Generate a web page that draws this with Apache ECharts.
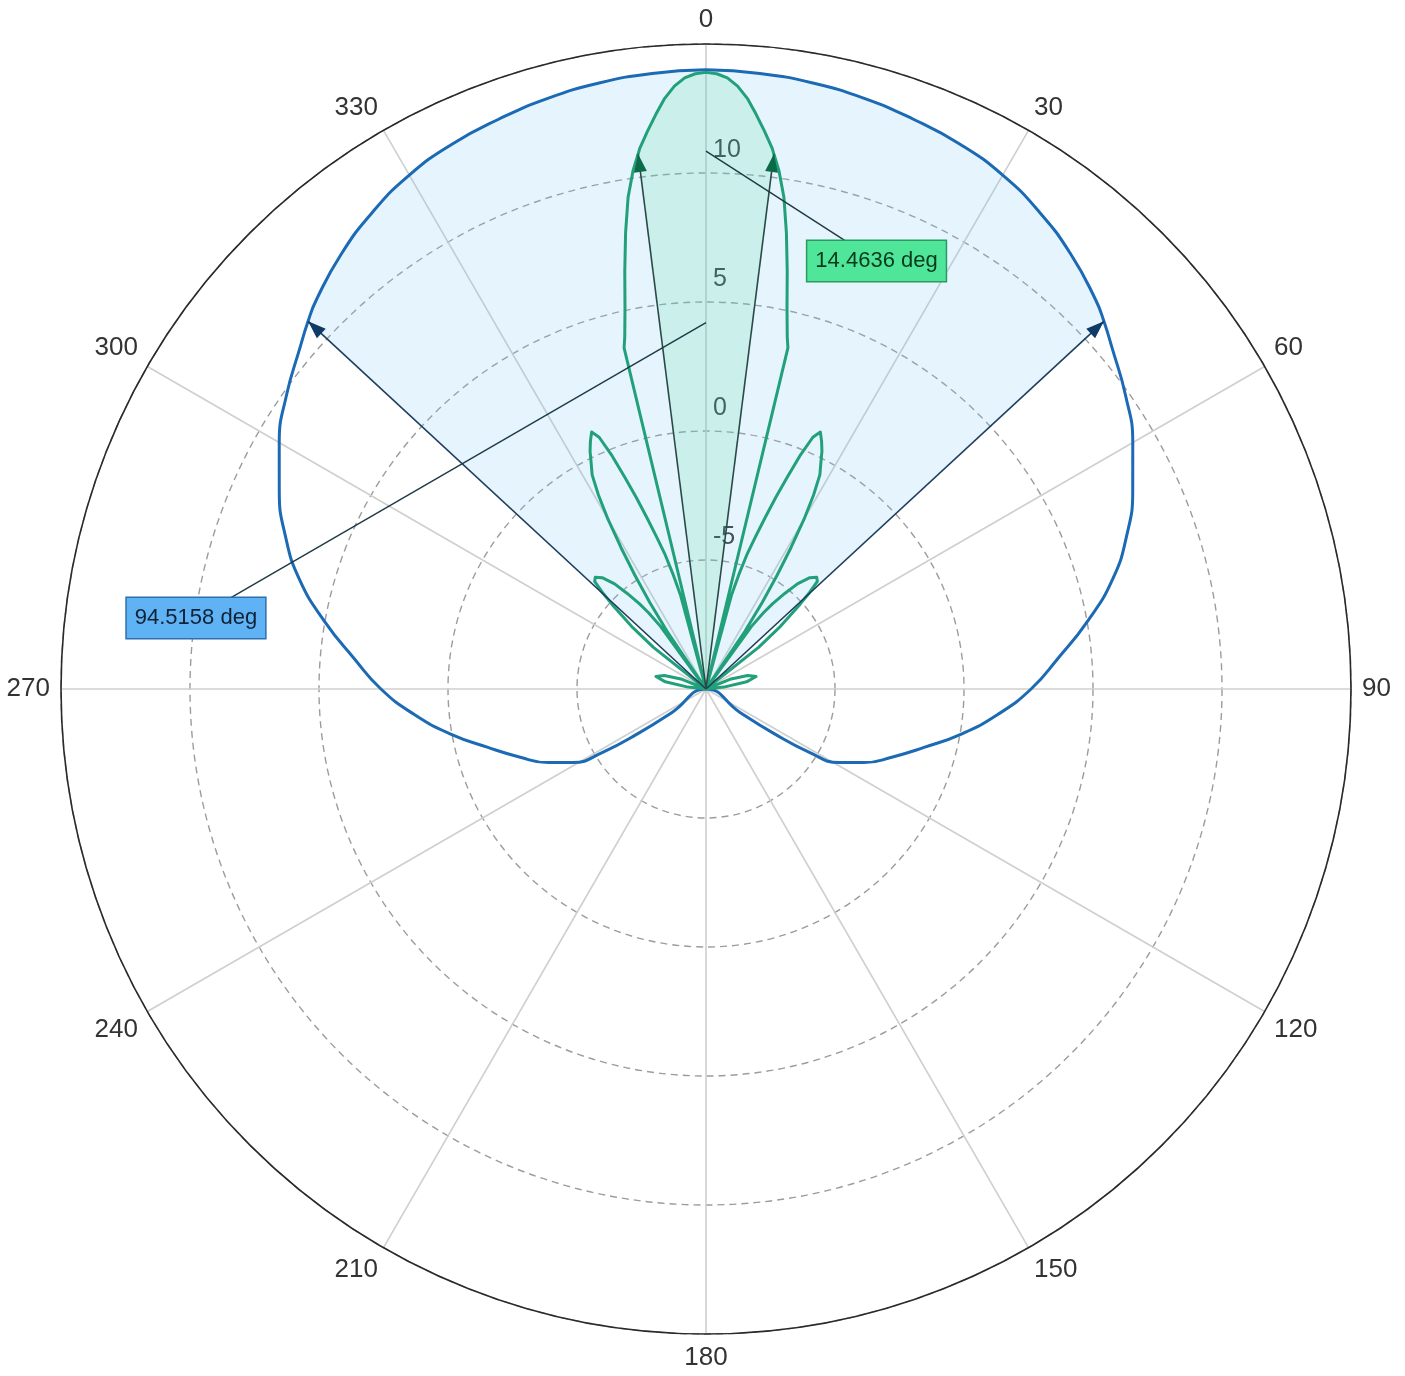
<!DOCTYPE html>
<html><head><meta charset="utf-8">
<script src="https://cdn.jsdelivr.net/npm/echarts@6/dist/echarts.min.js"></script>
<style>html,body{margin:0;padding:0;background:#fff}#c{width:1405px;height:1376px}</style>
</head><body><div id="c"></div>
<script>
// ---- tick labels ----
const angleTickLabels = ['0','30','60','90','120','150','180','210','240','270','300','330'];
const radiusTickLabels = ['-5','0','5','10'];

// ---- blue pattern (angle deg, gain dB) ----
const blueAngles = [0,5,10,15,20,25,30,35,40,45,47.26,50,55,60,65,70,75,80,85,90,95,100,105,110,115,118.9,121.5,123.3,124.5,125.5,180,
  234.5,235.5,236.7,238.5,241.1,245,250,255,260,265,270,275,280,285,290,295,300,305,310,312.74,315,320,325,330,335,340,345,350,355,360];
const blueGain = [14.0,13.95,13.85,13.7,13.5,13.3,13.0,12.55,12.0,11.35,11.0,10.55,9.85,9.1,8.25,7.35,6.3,5.0,3.7,2.6,1.35,0.05,-1.25,-2.3,-3.25,-4.1,-5.3,-6.9,-8.4,-10,-10,
  -10,-8.4,-6.9,-5.3,-4.1,-3.25,-2.3,-1.25,0.05,1.35,2.6,3.7,5.0,6.3,7.35,8.25,9.1,9.85,10.55,11.0,11.35,12.0,12.55,13.0,13.3,13.5,13.7,13.85,13.95,14.0];

// ---- green pattern (angle deg, gain dB) ----
const greenAngles = [0,1,2,3,4,5,6,7,7.23,8,9,10,11,12,13,13.5,14.5,15.2,16,17,18,19,20,21,22,23,24,25,26,27,28,29,30,31,32,33,34,35.2,36,37,38,39.5,41,43,44.7,46,47,48,50,51.6,53,64,68,72,76,80,84,87,90,
  270,273,276,280,284,288,292,296,307,308.4,310,312,313,314,315.3,317,319,320.5,322,323,324,324.8,326,327,328,329,330,331,332,333,334,335,336,337,338,339,340,341,342,343,344,344.8,345.5,346.5,347,348,349,350,351,352,352.77,353,354,355,356,357,358,359,360];
const greenGain = [13.9,13.85,13.7,13.4,12.95,12.35,11.73,11.1,10.9,10.3,9.3,7.95,6.5,5.1,4.0,3.6,-10,-6.2,-5.4,-4.5,-3.8,-3.0,-2.1,-1.2,-0.2,0.6,0.9,0.6,0.25,-0.2,-0.6,-1.4,-2.4,-3.6,-4.8,-6.0,-7.3,-10,-7.0,-6.3,-5.8,-5.2,-4.6,-4.1,-3.9,-4.0,-4.5,-5.1,-6.3,-7.4,-10,-10,-9.0,-8.3,-8.0,-8.4,-9.3,-10,-10,
  -10,-10,-9.3,-8.4,-8.0,-8.3,-9.0,-10,-10,-7.4,-6.3,-5.1,-4.5,-4.0,-3.9,-4.1,-4.6,-5.2,-5.8,-6.3,-7.0,-10,-7.3,-6.0,-4.8,-3.6,-2.4,-1.4,-0.6,-0.2,0.25,0.6,0.9,0.6,-0.2,-1.2,-2.1,-3.0,-3.8,-4.5,-5.4,-6.2,-10,3.6,4.0,5.1,6.5,7.95,9.3,10.3,10.9,11.1,11.73,12.35,12.95,13.4,13.7,13.85,13.9];

// ---- beamwidth markers ----
const blueEdgeAngles = [312.74, 47.26];
const blueEdgeGain = 11.0;
const greenEdgeAngles = [352.77, 7.23];
const greenEdgeGain = 10.9;

// ---- annotations: [gain, angle] of anchor on axis and of box ----
const beamLabels = ['94.5158 deg', '14.4636 deg'];
const blueLeader = [[4.2, 0], [9.96, 277.93]];
const greenLeader = [[10.85, 0], [7.86, 21.72]];

const FONT = 'Liberation Sans';
const signed = a => (a > 180 ? a - 360 : a);

function curve(angles, gains) { return angles.map((a, i) => [gains[i], a]); }
function sector(angles, gains, halfWidth) {
  const pts = [];
  angles.forEach((a, i) => { const s = signed(a); if (Math.abs(s) <= halfWidth + 1e-6) pts.push([gains[i], s]); });
  pts.sort((p, q) => p[1] - q[1]);
  return pts.filter((p, i) => i === 0 || p[1] !== pts[i - 1][1]);
}
function arrowSeries(angle, gain, lineColor, headColor) {
  const th = angle * Math.PI / 180, h = 18;
  return {
    type: 'line', coordinateSystem: 'polar', clip: false, z: 5,
    lineStyle: { color: lineColor, width: 1.6 },
    itemStyle: { color: headColor },
    data: [
      { value: [-10, angle], symbol: 'none' },
      { value: [gain, angle], symbol: 'triangle', symbolSize: [13, h], symbolRotate: -angle,
        symbolOffset: [-Math.sin(th) * h / 2, Math.cos(th) * h / 2] }
    ]
  };
}
const blueHalf = (blueEdgeAngles[1] - signed(blueEdgeAngles[0])) / 2;
const greenHalf = (greenEdgeAngles[1] - signed(greenEdgeAngles[0])) / 2;

const chart = echarts.init(document.getElementById('c'), null, { renderer: 'canvas' });
chart.setOption({
  animation: false,
  backgroundColor: '#ffffff',
  polar: { center: [706, 689], radius: 645 },
  angleAxis: {
    type: 'value', min: 0, max: 360, interval: 30, startAngle: 90, clockwise: true,
    axisLine: { show: true, lineStyle: { color: '#2a2a2a', width: 1.6 } },
    axisTick: { show: false },
    splitLine: { show: true, lineStyle: { color: '#cfcfcf', width: 1.6 } },
    axisLabel: {
      show: true, margin: 11,
      fontFamily: FONT, fontSize: 26, color: '#333',
      formatter: v => { const i = Math.round(v / 30); return i < angleTickLabels.length ? angleTickLabels[i] : ''; }
    }
  },
  radiusAxis: {
    type: 'value', min: -10, max: 15, interval: 5,
    axisLine: { show: false }, axisTick: { show: false },
    splitLine: { show: true, lineStyle: { color: '#9c9c9c', width: 1.4, type: [7, 5] } },
    axisLabel: {
      show: true, margin: -7, align: 'left', verticalAlign: 'bottom',
      padding: [0, 0, 11, 0], lineHeight: 24,
      fontFamily: FONT, fontSize: 25, color: '#333',
      formatter: v => (radiusTickLabels.indexOf(String(v)) >= 0 ? String(v) : '')
    }
  },
  series: [
    { name: 'blueFill', type: 'line', coordinateSystem: 'polar', clip: false, smooth: 0.5, showSymbol: false, symbol: 'none', z: 1,
      lineStyle: { width: 0, opacity: 0 }, areaStyle: { origin: 'start', color: 'rgba(120,200,245,0.28)' },
      data: sector(blueAngles, blueGain, blueHalf) },
    { name: 'greenFill', type: 'line', coordinateSystem: 'polar', clip: false, showSymbol: false, symbol: 'none', z: 1,
      lineStyle: { width: 0, opacity: 0 }, areaStyle: { origin: 'start', color: 'rgba(60,225,140,0.22)' },
      data: sector(greenAngles, greenGain, greenHalf) },
    { name: 'blue', type: 'line', coordinateSystem: 'polar', clip: false, smooth: 0.5, showSymbol: false, symbol: 'none', z: 3,
      lineStyle: { color: '#1b6ab3', width: 3 }, data: curve(blueAngles, blueGain) },
    { name: 'green', type: 'line', coordinateSystem: 'polar', clip: false, showSymbol: false, symbol: 'none', z: 3,
      lineStyle: { color: '#22a07a', width: 3, join: 'round' }, data: curve(greenAngles, greenGain) },
    arrowSeries(blueEdgeAngles[0], blueEdgeGain, '#1f3d5c', '#0e3a68'),
    arrowSeries(blueEdgeAngles[1], blueEdgeGain, '#1f3d5c', '#0e3a68'),
    arrowSeries(greenEdgeAngles[0], greenEdgeGain, '#2a4a47', '#0b6a47'),
    arrowSeries(greenEdgeAngles[1], greenEdgeGain, '#2a4a47', '#0b6a47'),
    { type: 'line', coordinateSystem: 'polar', clip: false, symbol: 'none', z: 6,
      lineStyle: { color: '#1d3a44', width: 1.4 }, data: blueLeader },
    { type: 'line', coordinateSystem: 'polar', clip: false, symbol: 'none', z: 6,
      lineStyle: { color: '#1d3a44', width: 1.4 }, data: greenLeader },
    { type: 'scatter', coordinateSystem: 'polar', clip: false, symbol: 'circle', symbolSize: 1, z: 8,
      itemStyle: { color: 'rgba(0,0,0,0)', opacity: 1 },
      data: [
        { value: blueLeader[1], name: beamLabels[0],
          label: { backgroundColor: '#5fb3f4', borderColor: '#2f6fae', color: '#0f2236' } },
        { value: greenLeader[1], name: beamLabels[1],
          label: { backgroundColor: '#4fe69a', borderColor: '#2b9a62', color: '#0a3a1c' } }
      ],
      label: { show: true, position: 'inside', formatter: p => p.name, fontFamily: FONT, fontSize: 22,
        lineHeight: 24, padding: [8, 8], borderWidth: 1.5, opacity: 1 }
    }
  ]
});
</script></body></html>
